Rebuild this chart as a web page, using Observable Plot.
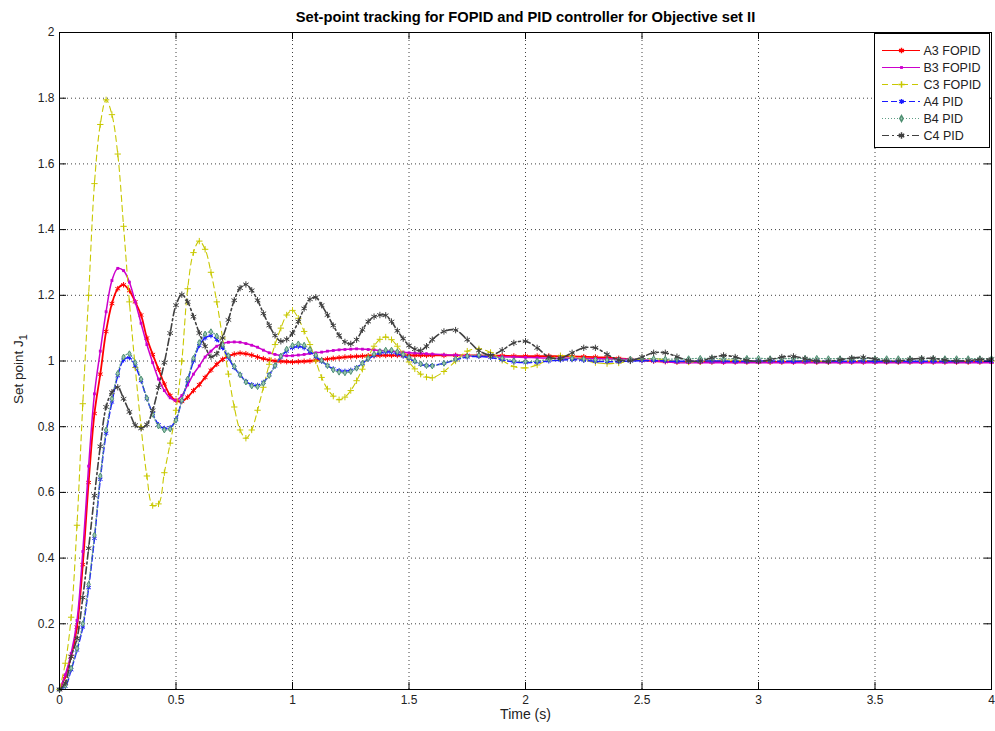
<!DOCTYPE html>
<html>
<head>
<meta charset="utf-8">
<script src="https://cdn.jsdelivr.net/npm/d3@7"></script>
<script src="https://cdn.jsdelivr.net/npm/@observablehq/plot@0.6"></script>
<style>
  html, body { margin: 0; padding: 0; background: #fff; }
  #wrap { position: relative; width: 995px; height: 731px; font-family: "Liberation Sans", Arial, sans-serif; }
  #legend { position: absolute; left: 874px; top: 33px; width: 114px; height: 113px; border: 1px solid #000; background: #fff; }
</style>
</head>
<body>
<div id="wrap"><div id="legend"></div></div>
<script>
// ---------------- data ----------------
const title = "Set-point tracking for FOPID and PID controller for Objective set II";
const xLabel = "Time (s)";
const yLabel = "Set point J";
const yLabelSub = "1";
const xTicks = [0, 0.5, 1, 1.5, 2, 2.5, 3, 3.5, 4];
const yTicks = [0, 0.2, 0.4, 0.6, 0.8, 1, 1.2, 1.4, 1.6, 1.8, 2];
const names = ["A3 FOPID", "B3 FOPID", "C3 FOPID", "A4 PID", "B4 PID", "C4 PID"];

const time = [0,0.025,0.05,0.075,0.1,0.125,0.15,0.175,0.2,0.225,
0.25,0.275,0.3,0.325,0.35,0.375,0.4,0.425,0.45,0.475,
0.5,0.525,0.55,0.575,0.6,0.625,0.65,0.675,0.7,0.725,
0.75,0.775,0.8,0.825,0.85,0.875,0.9,0.925,0.95,0.975,
1,1.025,1.05,1.075,1.1,1.125,1.15,1.175,1.2,1.225,
1.25,1.275,1.3,1.325,1.35,1.375,1.4,1.425,1.45,1.475,
1.5,1.525,1.55,1.575,1.6,
1.65,1.7,1.75,1.8,1.85,1.9,1.95,2,2.05,2.1,
2.15,2.2,2.25,2.3,2.35,2.4,2.45,2.5,2.55,2.6,
2.65,2.7,2.75,2.8,2.85,2.9,2.95,3,3.05,3.1,
3.15,3.2,3.25,3.3,3.35,3.4,3.45,3.5,3.55,3.6,
3.65,3.7,3.75,3.8,3.85,3.9,3.95,4];

const a3 = [0,0.04,0.10,0.19,0.38,0.63,0.84,0.96,1.09,1.175,
1.22,1.232,1.214,1.18,1.14,1.07,1.02,0.975,0.93,0.895,
0.88,0.877,0.89,0.91,0.928,0.95,0.972,0.99,1.005,1.015,
1.021,1.024,1.022,1.018,1.012,1.007,1.003,1.0,0.999,0.998,
0.997,0.998,0.999,1.0,1.002,1.004,1.006,1.008,1.01,1.012,
1.013,1.014,1.015,1.016,1.016,1.017,1.017,1.017,1.017,1.017,
1.017,1.017,1.017,1.017,1.017,
1.017,1.017,1.017,1.017,1.016,1.016,1.015,1.015,1.015,1.015,
1.014,1.014,1.013,1.012,1.01,1.008,1.005,1.002,1.0,0.998,
0.997,0.997,0.997,0.997,0.997,0.997,0.997,0.997,0.997,0.997,
0.997,0.997,0.997,0.997,0.997,0.997,0.997,0.997,0.997,0.997,
0.997,0.997,0.997,0.997,0.997,0.997,0.997,0.997];

const b3 = [0,0.045,0.11,0.21,0.42,0.68,0.9,1.03,1.15,1.245,
1.282,1.275,1.24,1.18,1.115,1.05,0.995,0.945,0.91,0.888,
0.88,0.895,0.927,0.96,0.985,1.012,1.03,1.045,1.053,1.057,
1.058,1.057,1.053,1.048,1.042,1.033,1.025,1.02,1.017,1.016,
1.016,1.018,1.02,1.023,1.025,1.027,1.03,1.032,1.034,1.035,
1.036,1.037,1.036,1.035,1.034,1.032,1.031,1.03,1.028,1.027,
1.025,1.024,1.023,1.022,1.021,
1.019,1.018,1.016,1.015,1.014,1.013,1.012,1.011,1.01,1.009,
1.008,1.008,1.007,1.007,1.006,1.006,1.005,1.004,1.001,0.998,
0.995,0.995,0.995,0.995,0.995,0.995,0.995,0.995,0.995,0.995,
0.995,0.995,0.995,0.995,0.995,0.995,0.995,0.995,0.995,0.995,
0.995,0.995,0.995,0.995,0.995,0.995,0.995,0.995];

const c3 = [0,0.08,0.22,0.5,0.87,1.2,1.54,1.72,1.795,1.75,
1.63,1.41,1.18,0.98,0.8,0.65,0.56,0.565,0.66,0.75,
0.85,1.0,1.22,1.33,1.365,1.34,1.27,1.18,1.07,0.96,
0.86,0.79,0.765,0.79,0.85,0.92,0.99,1.05,1.1,1.14,
1.154,1.13,1.09,1.05,1.0,0.95,0.915,0.893,0.882,0.89,
0.91,0.94,0.975,1.012,1.045,1.066,1.073,1.065,1.045,1.022,
0.997,0.976,0.96,0.951,0.949,
0.968,1.0,1.03,1.037,1.026,1.002,0.983,0.979,0.988,1.005,
1.016,1.014,1.004,0.995,0.992,0.994,1.0,1.006,1.007,1.004,
0.999,0.997,0.998,1.001,1.003,1.002,1.0,0.999,0.999,1.0,
1.001,1.001,1.0,0.999,1.0,1.0,1.001,1.0,1.0,1.0,
1.0,1.0,1.0,1.0,1.0,1.0,1.0,1.0];

const a4 = [0,0.01,0.06,0.12,0.19,0.31,0.46,0.64,0.78,0.875,
0.955,1.003,1.01,0.985,0.94,0.885,0.84,0.806,0.795,0.797,
0.822,0.88,0.94,1.0,1.047,1.07,1.077,1.065,1.04,1.01,
0.98,0.958,0.938,0.928,0.926,0.935,0.958,0.985,1.012,1.03,
1.04,1.044,1.04,1.028,1.013,0.999,0.986,0.976,0.971,0.969,
0.972,0.98,0.993,1.006,1.017,1.024,1.027,1.027,1.022,1.015,
1.008,0.998,0.99,0.986,0.986,
0.993,1.004,1.012,1.014,1.011,1.004,0.997,0.995,0.996,1.0,
1.003,1.004,1.002,0.999,0.998,0.998,1.0,1.001,1.001,1.0,
0.999,0.999,1.0,1.0,1.0,0.999,0.999,1.0,1.0,0.999,
0.999,1.0,1.0,0.999,0.999,0.999,1.0,0.999,0.999,0.999,
0.999,0.999,0.999,0.999,0.999,0.999,0.999,0.999];

const b4 = [0,0.012,0.065,0.125,0.2,0.32,0.47,0.65,0.79,0.885,
0.962,1.012,1.022,0.995,0.945,0.887,0.838,0.802,0.79,0.793,
0.82,0.88,0.945,1.008,1.056,1.082,1.089,1.076,1.05,1.016,
0.984,0.958,0.936,0.924,0.922,0.932,0.956,0.986,1.015,1.036,
1.047,1.052,1.048,1.035,1.018,1.002,0.986,0.973,0.966,0.964,
0.968,0.978,0.993,1.008,1.021,1.029,1.033,1.033,1.028,1.02,
1.011,1.0,0.991,0.986,0.985,
0.993,1.006,1.015,1.018,1.015,1.008,1.001,0.998,1.0,1.005,
1.008,1.008,1.006,1.004,1.003,1.004,1.006,1.007,1.007,1.006,
1.006,1.007,1.008,1.008,1.007,1.007,1.008,1.008,1.007,1.007,
1.007,1.008,1.008,1.007,1.007,1.007,1.008,1.007,1.007,1.007,
1.007,1.007,1.007,1.007,1.007,1.007,1.007,1.007];

const c4 = [0,0.02,0.1,0.155,0.28,0.43,0.59,0.74,0.86,0.905,
0.92,0.885,0.845,0.805,0.795,0.807,0.85,0.92,0.995,1.085,
1.17,1.202,1.18,1.135,1.085,1.045,1.013,1.022,1.07,1.125,
1.185,1.222,1.233,1.215,1.185,1.145,1.108,1.078,1.06,1.066,
1.085,1.12,1.16,1.188,1.194,1.17,1.14,1.108,1.078,1.058,
1.052,1.065,1.095,1.12,1.135,1.14,1.139,1.12,1.092,1.068,
1.047,1.036,1.032,1.045,1.065,
1.09,1.094,1.065,1.032,1.018,1.033,1.055,1.06,1.04,1.012,
1.008,1.025,1.04,1.04,1.02,1.003,1.001,1.012,1.025,1.025,
1.013,1.001,1.0,1.01,1.017,1.012,1.002,0.999,1.004,1.012,
1.014,1.007,1.0,0.999,1.004,1.009,1.011,1.006,1.0,1.0,
1.005,1.008,1.008,1.003,1.0,1.001,1.005,1.006];

// ---------------- styles ----------------
const seriesValues = [a3, b3, c3, a4, b4, c4];
const styles = [
  {stroke: "#ff0000", dash: null,   width: 1.8, symbol: "asterisk", r: 2.6, fill: "none",   mstroke: "#ff0000"},
  {stroke: "#cc00cc", dash: null,   width: 1.5, symbol: "square",   r: 1.6, fill: "#cc00cc", mstroke: "none"},
  {stroke: "#c8c800", dash: "6,4",  width: 1.1, symbol: "plus",     r: 2.2, fill: "none",   mstroke: "#c8c800"},
  {stroke: "#1a1aff", dash: "6,3",  width: 1.5, symbol: "asterisk", r: 2.4, fill: "none",   mstroke: "#1a1aff"},
  {stroke: "#5f9e85", dash: "1,2",  width: 1.2, symbol: "diamond",  r: 1.8, fill: "#9cc8b4", mstroke: "#4f8f72"},
  {stroke: "#404040", dash: "7,3,2,3", width: 1.6, symbol: "asterisk", r: 3, fill: "none",  mstroke: "#404040"}
];

const W = 995, H = 731, mL = 59, mR = 4, mT = 32, mB = 42;
const pw = W - mL - mR, ph = H - mT - mB;

const marks = [];
// grid
marks.push(Plot.ruleX(xTicks.slice(1, -1), {stroke: "#000", strokeOpacity: 0.75, strokeDasharray: "1,3"}));
marks.push(Plot.ruleY(yTicks.slice(1, -1), {stroke: "#000", strokeOpacity: 0.75, strokeDasharray: "1,3"}));
// series
seriesValues.forEach((vals, i) => {
  const s = styles[i];
  const data = time.map((t, j) => ({t, v: vals[j]}));
  marks.push(Plot.line(data, {x: "t", y: "v", stroke: s.stroke, strokeWidth: s.width, strokeDasharray: s.dash, curve: "catmull-rom"}));
  marks.push(Plot.dot(data, {x: "t", y: "v", symbol: s.symbol, r: s.r, fill: s.fill, stroke: s.mstroke, strokeWidth: 1}));
});
// inward ticks
marks.push(Plot.tickY(yTicks, {y: d => d, insetRight: pw - 7, stroke: "#000"}));
marks.push(Plot.tickY(yTicks, {y: d => d, insetLeft: pw - 7, stroke: "#000"}));
marks.push(Plot.tickX(xTicks, {x: d => d, insetTop: ph - 7, stroke: "#000"}));
marks.push(Plot.tickX(xTicks, {x: d => d, insetBottom: ph - 7, stroke: "#000"}));
marks.push(Plot.frame({stroke: "#000"}));
// axes
marks.push(Plot.axisX(xTicks, {tickSize: 0, tickPadding: 6, tickFormat: d => String(d), label: null, fill: "#222", fontSize: 12}));
marks.push(Plot.axisY(yTicks, {tickSize: 0, tickPadding: 5, tickFormat: d => String(d), label: null, fill: "#222", fontSize: 12}));
// labels
marks.push(Plot.text([title], {frameAnchor: "top", dy: -21, fontWeight: "bold", fontSize: 14.7, fill: "#000"}));
marks.push(Plot.text([xLabel], {frameAnchor: "bottom", dy: 29, fontSize: 14, fill: "#222"}));
marks.push(Plot.text([yLabel], {frameAnchor: "left", dx: -41, dy: 43, rotate: -90, fontSize: 13.5, fill: "#222"}));

const chart = Plot.plot({
  width: W, height: H,
  marginLeft: mL, marginRight: mR, marginTop: mT, marginBottom: mB,
  x: {domain: [0, 4]},
  y: {domain: [0, 2]},
  style: {fontFamily: "Liberation Sans, Arial, sans-serif", fontSize: "12px", background: "#fff", color: "#000"},
  marks
});
document.getElementById("wrap").prepend(chart);

// subscript on y label
d3.select(chart).selectAll("text").filter(function() { return this.textContent === yLabel; })
  .append("tspan").attr("dy", "0.35em").attr("font-size", "11px").text(yLabelSub);

// ---------------- legend ----------------
const lmarks = [];
names.forEach((name, i) => {
  const s = styles[i];
  lmarks.push(Plot.ruleY([name], {y: d => d, stroke: s.stroke, strokeWidth: 1, strokeDasharray: s.dash, insetLeft: 7, insetRight: 69}));
  lmarks.push(Plot.dot([name], {y: d => d, frameAnchor: "left", dx: 26, symbol: s.symbol, r: s.r, fill: s.fill, stroke: s.mstroke}));
  lmarks.push(Plot.text([name], {y: d => d, frameAnchor: "left", dx: 48, textAnchor: "start", fontSize: 12.5, fill: "#222"}));
});
const legend = Plot.plot({
  width: 114, height: 113,
  marginLeft: 0, marginRight: 0, marginTop: 14, marginBottom: 11,
  y: {type: "point", domain: names, padding: 0, axis: null},
  style: {fontFamily: "Liberation Sans, Arial, sans-serif", background: "#fff"},
  marks: lmarks
});
document.getElementById("legend").appendChild(legend);
</script>
</body>
</html>
